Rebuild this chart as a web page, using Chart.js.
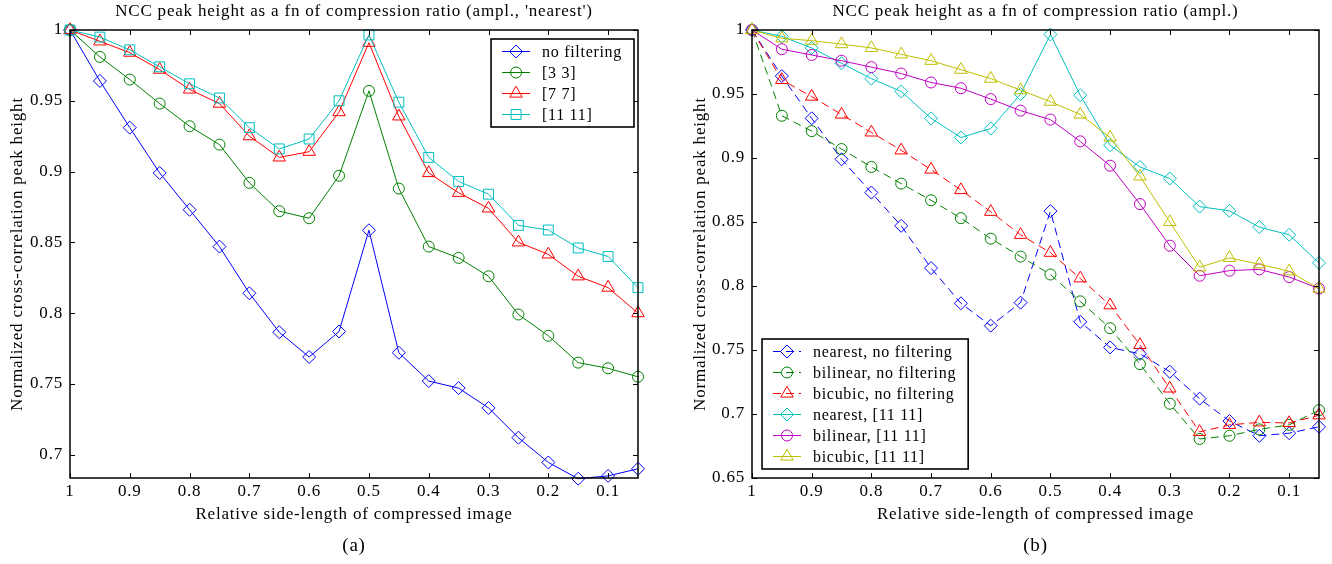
<!DOCTYPE html>
<html><head><meta charset="utf-8">
<script src="https://cdn.jsdelivr.net/npm/chart.js@4.4.1/dist/chart.umd.min.js"></script>
<style>
html,body{margin:0;padding:0;background:#fff;}
#wrap{position:relative;width:1332px;height:564px;overflow:hidden;}
canvas{position:absolute;top:0;}
#cA{left:0}
#cB{left:666px}
</style></head><body>
<div id="wrap"><canvas id="cA" width="666" height="564"></canvas><canvas id="cB" width="666" height="564"></canvas></div>
<script>
// ---------- data ----------
const xValues = [1,0.95,0.9,0.85,0.8,0.75,0.7,0.65,0.6,0.55,0.5,0.45,0.4,0.35,0.3,0.25,0.2,0.15,0.1,0.05];
const xTicks = [1,0.9,0.8,0.7,0.6,0.5,0.4,0.3,0.2,0.1];
const xTickLabels = ['1','0.9','0.8','0.7','0.6','0.5','0.4','0.3','0.2','0.1'];
const yTicksA = [0.7,0.75,0.8,0.85,0.9,0.95,1];
const yTickLabelsA = ['0.7','0.75','0.8','0.85','0.9','0.95','1'];
const yTicksB = [0.65,0.7,0.75,0.8,0.85,0.9,0.95,1];
const yTickLabelsB = ['0.65','0.7','0.75','0.8','0.85','0.9','0.95','1'];

// (a) nearest interpolation
const nearestNoFilt = [1,0.964,0.931,0.899,0.873,0.847,0.814,0.7865,0.769,0.787,0.8585,0.772,0.752,0.747,0.733,0.712,0.6945,0.683,0.685,0.690];
const nearest33     = [1,0.981,0.965,0.948,0.932,0.919,0.892,0.872,0.867,0.897,0.957,0.888,0.847,0.839,0.826,0.799,0.784,0.765,0.761,0.755];
const nearest77     = [1,0.992,0.984,0.972,0.958,0.948,0.925,0.910,0.914,0.942,0.991,0.939,0.899,0.885,0.874,0.850,0.8415,0.826,0.818,0.800];
const nearest1111   = [1,0.995,0.986,0.974,0.962,0.952,0.931,0.916,0.923,0.950,0.9965,0.949,0.910,0.893,0.884,0.862,0.8587,0.846,0.840,0.818];
// (b) other interpolations
const bilinearNoFilt = [1,0.933,0.921,0.907,0.893,0.880,0.867,0.853,0.837,0.823,0.809,0.788,0.767,0.739,0.708,0.6805,0.683,0.688,0.6915,0.703];
const bicubicNoFilt  = [1,0.961,0.948,0.934,0.920,0.906,0.891,0.875,0.858,0.840,0.826,0.806,0.785,0.754,0.720,0.686,0.6915,0.6935,0.693,0.699];
const bilinear1111   = [1,0.985,0.9805,0.976,0.971,0.966,0.959,0.9545,0.946,0.937,0.930,0.913,0.894,0.864,0.8315,0.808,0.812,0.813,0.807,0.798];
const bicubic1111    = [1,0.9935,0.9917,0.989,0.986,0.981,0.976,0.969,0.962,0.953,0.944,0.934,0.916,0.8856,0.850,0.8146,0.822,0.817,0.8115,0.798];

// ---------- styling ----------
const FONT = '"Liberation Serif", "Times New Roman", serif';
const FS = 17;          // main text size
const LS = '0.8px';     // letter spacing (the reference text is loosely set)
Chart.defaults.font.family = FONT;
Chart.defaults.color = '#000';

const C = {blue:'#0000ff', green:'#008000', red:'#ff0000', cyan:'#00bfbf', magenta:'#bf00bf', yellow:'#bfbf00'};
const R = {rectRot:6.5, circle:5.5, triangle:7.2, rect:7};

function pts(arr){ return xValues.map((x,i)=>({x:x, y:arr[i]})); }
function ds(label, arr, color, style, dashed, idx){
  return {label, data: pts(arr), borderColor: color, backgroundColor: 'rgba(0,0,0,0)',
    pointBackgroundColor:'rgba(0,0,0,0)', pointBorderColor: color, pointStyle: style,
    pointRadius: R[style], pointBorderWidth: 1, borderWidth: 1, borderDash: dashed ? [8,5] : [],
    tension: 0, clip: false, order: -idx};
}

function drawMarker(ctx, style, x, y, r){
  ctx.beginPath();
  if (style === 'circle') ctx.arc(x, y, r, 0, Math.PI*2);
  else if (style === 'rectRot') { ctx.moveTo(x-r,y); ctx.lineTo(x,y-r); ctx.lineTo(x+r,y); ctx.lineTo(x,y+r); ctx.closePath(); }
  else if (style === 'triangle') { ctx.moveTo(x,y-r); ctx.lineTo(x+0.866*r,y+0.5*r); ctx.lineTo(x-0.866*r,y+0.5*r); ctx.closePath(); }
  else if (style === 'rect') { const s = r*Math.SQRT1_2; ctx.rect(x-s,y-s,2*s,2*s); }
  ctx.stroke();
}

const spacing = {
  id: 'spacing',
  beforeUpdate(chart){ chart.ctx.letterSpacing = LS; },
  beforeDraw(chart){ chart.ctx.letterSpacing = LS; }
};

const matlabAxes = {
  id: 'matlabAxes',
  afterDatasetsDraw(chart){
    const {ctx, chartArea:a, scales:{x, y}} = chart;
    const L = 5;
    ctx.save();
    ctx.setLineDash([]);
    ctx.strokeStyle = '#000';
    ctx.lineWidth = 1;
    ctx.beginPath();
    x.ticks.forEach(t => {
      const px = Math.round(x.getPixelForValue(t.value)) + 0.5;
      ctx.moveTo(px, a.bottom); ctx.lineTo(px, a.bottom - L);
      ctx.moveTo(px, a.top); ctx.lineTo(px, a.top + L);
    });
    y.ticks.forEach(t => {
      const py = Math.round(y.getPixelForValue(t.value)) + 0.5;
      ctx.moveTo(a.left, py); ctx.lineTo(a.left + L, py);
      ctx.moveTo(a.right, py); ctx.lineTo(a.right - L, py);
    });
    ctx.stroke();
    ctx.lineWidth = 1.5;
    ctx.strokeRect(a.left, a.top, a.right - a.left, a.bottom - a.top);
    ctx.restore();
  }
};

const boxLegend = {
  id: 'boxLegend',
  afterDraw(chart, args, opts){
    const {ctx, chartArea:a} = chart;
    const items = chart.data.datasets;
    ctx.save();
    ctx.font = '16px ' + FONT;
    ctx.letterSpacing = '0.7px';
    const maxW = Math.max(...items.map(d => ctx.measureText(d.label).width));
    const w = 51 + maxW + 12;
    const h = 21*items.length + 4;
    let left, top;
    if (opts.corner === 'tr') { left = a.right - opts.dx - w; top = a.top + opts.dy; }
    else { left = a.left + opts.dx; top = a.bottom - opts.dy - h; }
    ctx.fillStyle = '#fff';
    ctx.fillRect(left, top, w, h);
    ctx.strokeStyle = '#000';
    ctx.lineWidth = 1.6;
    ctx.strokeRect(left, top, w, h);
    items.forEach((d, i) => {
      const cy = top + 12.5 + 21*i;
      ctx.strokeStyle = d.borderColor;
      ctx.lineWidth = 1;
      ctx.setLineDash(d.borderDash || []);
      ctx.beginPath(); ctx.moveTo(left + 11, cy); ctx.lineTo(left + 39, cy); ctx.stroke();
      ctx.setLineDash([]);
      drawMarker(ctx, d.pointStyle, left + 25, cy, d.pointRadius);
      ctx.fillStyle = '#000';
      ctx.textBaseline = 'middle';
      ctx.textAlign = 'left';
      ctx.fillText(d.label, left + 51, cy + 1);
    });
    ctx.restore();
  }
};

function makeChart(id, cfg){
  return new Chart(document.getElementById(id), {
    type: 'line',
    data: {datasets: cfg.datasets},
    plugins: [spacing, matlabAxes, boxLegend],
    options: {
      responsive: false, animation: false, devicePixelRatio: 1, events: [],
      layout: {padding: {left: 0, right: cfg.padRight, top: 0, bottom: 0}, autoPadding: false},
      plugins: {
        legend: {display: false},
        tooltip: {enabled: false},
        title: {display: true, text: cfg.title, fullSize: false, color: '#000',
          font: {size: FS, weight: 'normal', family: FONT, lineHeight: 1.2}, padding: {top: 1.8, bottom: 7.8}},
        subtitle: {display: true, text: cfg.sub, position: 'bottom', fullSize: false, color: '#000',
          font: {size: 19, weight: 'normal', family: FONT, lineHeight: 1.2}, padding: {top: 0, bottom: 6.6}},
        boxLegend: cfg.legend
      },
      scales: {
        x: {
          type: 'linear', reverse: true, min: 0.05, max: 1,
          afterBuildTicks: s => { s.ticks = xTicks.map(v => ({value: v})); },
          afterFit: s => { s.height = 56.6; },
          ticks: {callback: (v, i) => xTickLabels[i], autoSkip: false, maxRotation: 0, padding: 3.8,
            font: {size: FS, family: FONT, lineHeight: 1.2}, color: '#000'},
          grid: {display: false, drawTicks: false}, border: {display: false},
          title: {display: true, text: 'Relative side-length of compressed image', color: '#000',
            font: {size: FS, family: FONT, lineHeight: 1.2}, padding: {top: 0, bottom: 9.6}}
        },
        y: {
          type: 'linear', min: cfg.yMin, max: 1,
          afterBuildTicks: s => { s.ticks = cfg.yTicks.map(v => ({value: v})); },
          afterFit: s => { s.width = cfg.yWidth; },
          ticks: {callback: (v, i) => cfg.yLabels[i], autoSkip: false, padding: 7,
            font: {size: FS, family: FONT, lineHeight: 1.2}, color: '#000'},
          grid: {display: false, drawTicks: false}, border: {display: false},
          title: {display: true, text: 'Normalized cross-correlation peak height', color: '#000',
            font: {size: FS, family: FONT, lineHeight: 1.2}, padding: {top: cfg.yTitlePad, bottom: 0}}
        }
      }
    }
  });
}

makeChart('cA', {
  title: "NCC peak height as a fn of compression ratio (ampl., 'nearest')",
  sub: '(a)', padRight: 28, yWidth: 70, yTitlePad: 7.8, yMin: 0.6835,
  yTicks: yTicksA, yLabels: yTickLabelsA,
  legend: {corner: 'tr', dx: 4, dy: 9},
  datasets: [
    ds('no filtering', nearestNoFilt, C.blue, 'rectRot', false, 0),
    ds('[3 3]', nearest33, C.green, 'circle', false, 1),
    ds('[7 7]', nearest77, C.red, 'triangle', false, 2),
    ds('[11 11]', nearest1111, C.cyan, 'rect', false, 3)
  ]
});

makeChart('cB', {
  title: 'NCC peak height as a fn of compression ratio (ampl.)',
  sub: '(b)', padRight: 13, yWidth: 86, yTitlePad: 24.8, yMin: 0.65,
  yTicks: yTicksB, yLabels: yTickLabelsB,
  legend: {corner: 'bl', dx: 10, dy: 9},
  datasets: [
    ds('nearest, no filtering', nearestNoFilt, C.blue, 'rectRot', true, 0),
    ds('bilinear, no filtering', bilinearNoFilt, C.green, 'circle', true, 1),
    ds('bicubic, no filtering', bicubicNoFilt, C.red, 'triangle', true, 2),
    ds('nearest, [11 11]', nearest1111, C.cyan, 'rectRot', false, 3),
    ds('bilinear, [11 11]', bilinear1111, C.magenta, 'circle', false, 4),
    ds('bicubic, [11 11]', bicubic1111, C.yellow, 'triangle', false, 5)
  ]
});
</script>
</body></html>
